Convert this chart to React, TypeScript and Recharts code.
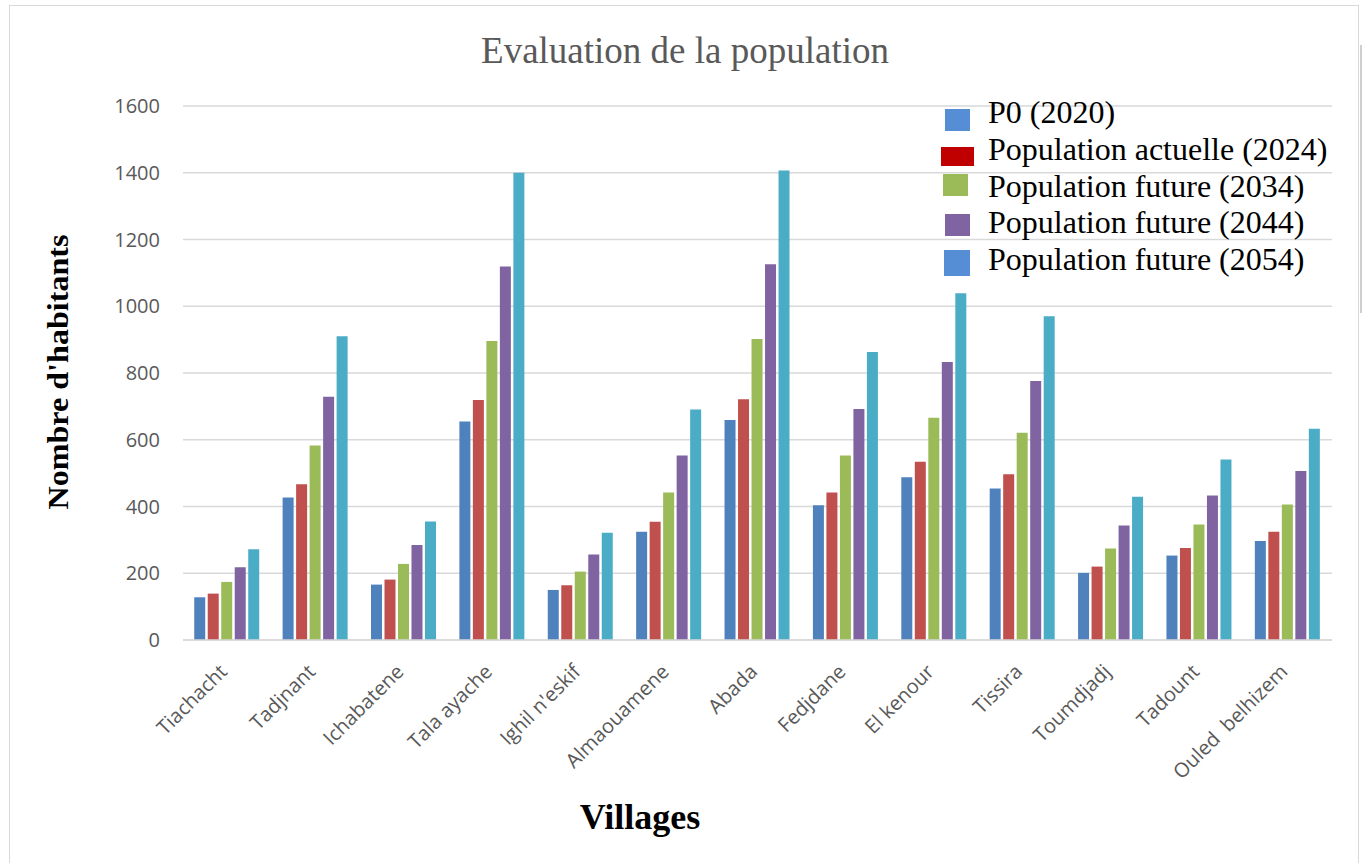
import React from 'react';
import { BarChart, Bar, XAxis, YAxis, CartesianGrid, Legend } from 'recharts';

const categories = [
  'Tiachacht', 'Tadjnant', 'Ichabatene', 'Tala ayache', "Ighil n'eskif", 'Almaouamene',
  'Abada', 'Fedjdane', 'El kenour', 'Tissira', 'Toumdjadj', 'Tadount', 'Ouled  belhizem',
];
const p2020 = [128, 427, 166, 655, 150, 324, 659, 404, 488, 454, 201, 253, 297];
const p2024 = [139, 467, 181, 719, 164, 354, 721, 442, 534, 497, 220, 276, 324];
const p2034 = [174, 583, 228, 896, 205, 442, 902, 553, 666, 621, 274, 346, 406];
const p2044 = [218, 729, 285, 1119, 256, 553, 1126, 692, 833, 776, 343, 433, 506];
const p2054 = [272, 910, 355, 1400, 321, 691, 1407, 863, 1039, 970, 429, 541, 633];
const yTicks = [0, 200, 400, 600, 800, 1000, 1200, 1400, 1600];

const seriesNames = [
  'P0 (2020)',
  'Population actuelle (2024)',
  'Population future (2034)',
  'Population future (2044)',
  'Population future (2054)',
];
const seriesKeys = ['p2020', 'p2024', 'p2034', 'p2044', 'p2054'];
const seriesValues = [p2020, p2024, p2034, p2044, p2054];
const barColors = ['#4F81BD', '#C0504D', '#9BBB59', '#8064A2', '#4BACC6'];
const legendColors = ['#558ED5', '#C00000', '#9BBB59', '#8064A2', '#558ED5'];
// legend icon boxes (x, y, w, h) relative to legend box
const legendIconBoxes = [
  [15, 14, 25, 22],
  [11, 52, 33, 19],
  [13, 79, 25, 22],
  [15, 119, 25, 22],
  [14, 155, 26, 26],
];

const data = categories.map((name, i) => {
  const row: Record<string, string | number> = { name };
  seriesKeys.forEach((k, s) => {
    row[k] = seriesValues[s][i];
  });
  return row;
});

const XTick = (props: any) => {
  const { x, y, payload } = props;
  return (
    <g transform={`translate(${x + 1},${y + 25})`}>
      <text
        x={0}
        y={0}
        textAnchor="end"
        transform="rotate(-45)"
        fill="#595959"
        fontSize={20}
        fontFamily="'Open Sans', sans-serif"
        style={{ whiteSpace: 'pre' }}
      >
        {payload.value}
      </text>
    </g>
  );
};

const LegendContent = () => (
  <svg width={430} height={200}>
    {seriesNames.map((n, i) => {
      const [x, y, w, h] = legendIconBoxes[i];
      return (
        <g key={n}>
          <rect x={x} y={y} width={w} height={h} fill={legendColors[i]} />
          <text
            x={58}
            y={28.3 + 36.7 * i}
            fontSize={32}
            fontFamily="'Liberation Serif', 'Times New Roman', serif"
            fill="#000"
          >
            {n}
          </text>
        </g>
      );
    })}
  </svg>
);

export default function App() {
  return (
    <div style={{ position: 'absolute', left: 0, top: 0, width: 1364, height: 863, background: '#fff' }}>
      <div
        style={{
          position: 'absolute',
          left: 9,
          top: 5,
          width: 1350,
          height: 880,
          border: '1.5px solid #D9D9D9',
          boxSizing: 'border-box',
        }}
      />
      <BarChart
        width={1364}
        height={863}
        data={data}
        margin={{ top: 106, right: 32, bottom: 193, left: 103 }}
        barGap={2.5}
        barCategoryGap="12.7%"
      >
        <CartesianGrid vertical={false} stroke="#D9D9D9" strokeWidth={1.5} />
        <XAxis
          dataKey="name"
          height={30}
          interval={0}
          axisLine={{ stroke: '#D9D9D9', strokeWidth: 1.5 }}
          tickLine={false}
          tick={<XTick />}
        />
        <YAxis
          width={80}
          domain={[0, 1600]}
          ticks={yTicks}
          axisLine={false}
          tickLine={false}
          tickMargin={17}
          tick={{ fill: '#595959', fontSize: 20, fontFamily: "'Open Sans', sans-serif" }}
        />
        <Legend
          verticalAlign="middle"
          align="center"
          layout="vertical"
          content={<LegendContent />}
          wrapperStyle={{ position: 'absolute', left: 930, top: 95, width: 430, height: 200 }}
        />
        {seriesKeys.map((k, i) => (
          <Bar key={k} dataKey={k} name={seriesNames[i]} fill={barColors[i]} isAnimationActive={false} />
        ))}
      </BarChart>
      <svg
        width={1364}
        height={863}
        style={{ position: 'absolute', left: 0, top: 0, pointerEvents: 'none' }}
      >
        <text
          x={685}
          y={63}
          textAnchor="middle"
          fontSize={37}
          fill="#595959"
          fontFamily="'Liberation Serif', 'Times New Roman', serif"
        >
          Evaluation de la population
        </text>
        <text
          x={640}
          y={829}
          textAnchor="middle"
          fontSize={36}
          fontWeight="bold"
          fill="#000"
          fontFamily="'Liberation Serif', 'Times New Roman', serif"
        >
          Villages
        </text>
        <text
          transform="translate(68,372) rotate(-90)"
          x={0}
          y={0}
          textAnchor="middle"
          fontSize={29}
          fontWeight="bold"
          fill="#000"
          textLength={275}
          lengthAdjust="spacingAndGlyphs"
          fontFamily="'Liberation Serif', 'Times New Roman', serif"
        >
          Nombre d'habitants
        </text>
        <line x1={1361} y1={45} x2={1361} y2={313} stroke="#BFBFBF" strokeWidth={1.5} />
      </svg>
    </div>
  );
}
